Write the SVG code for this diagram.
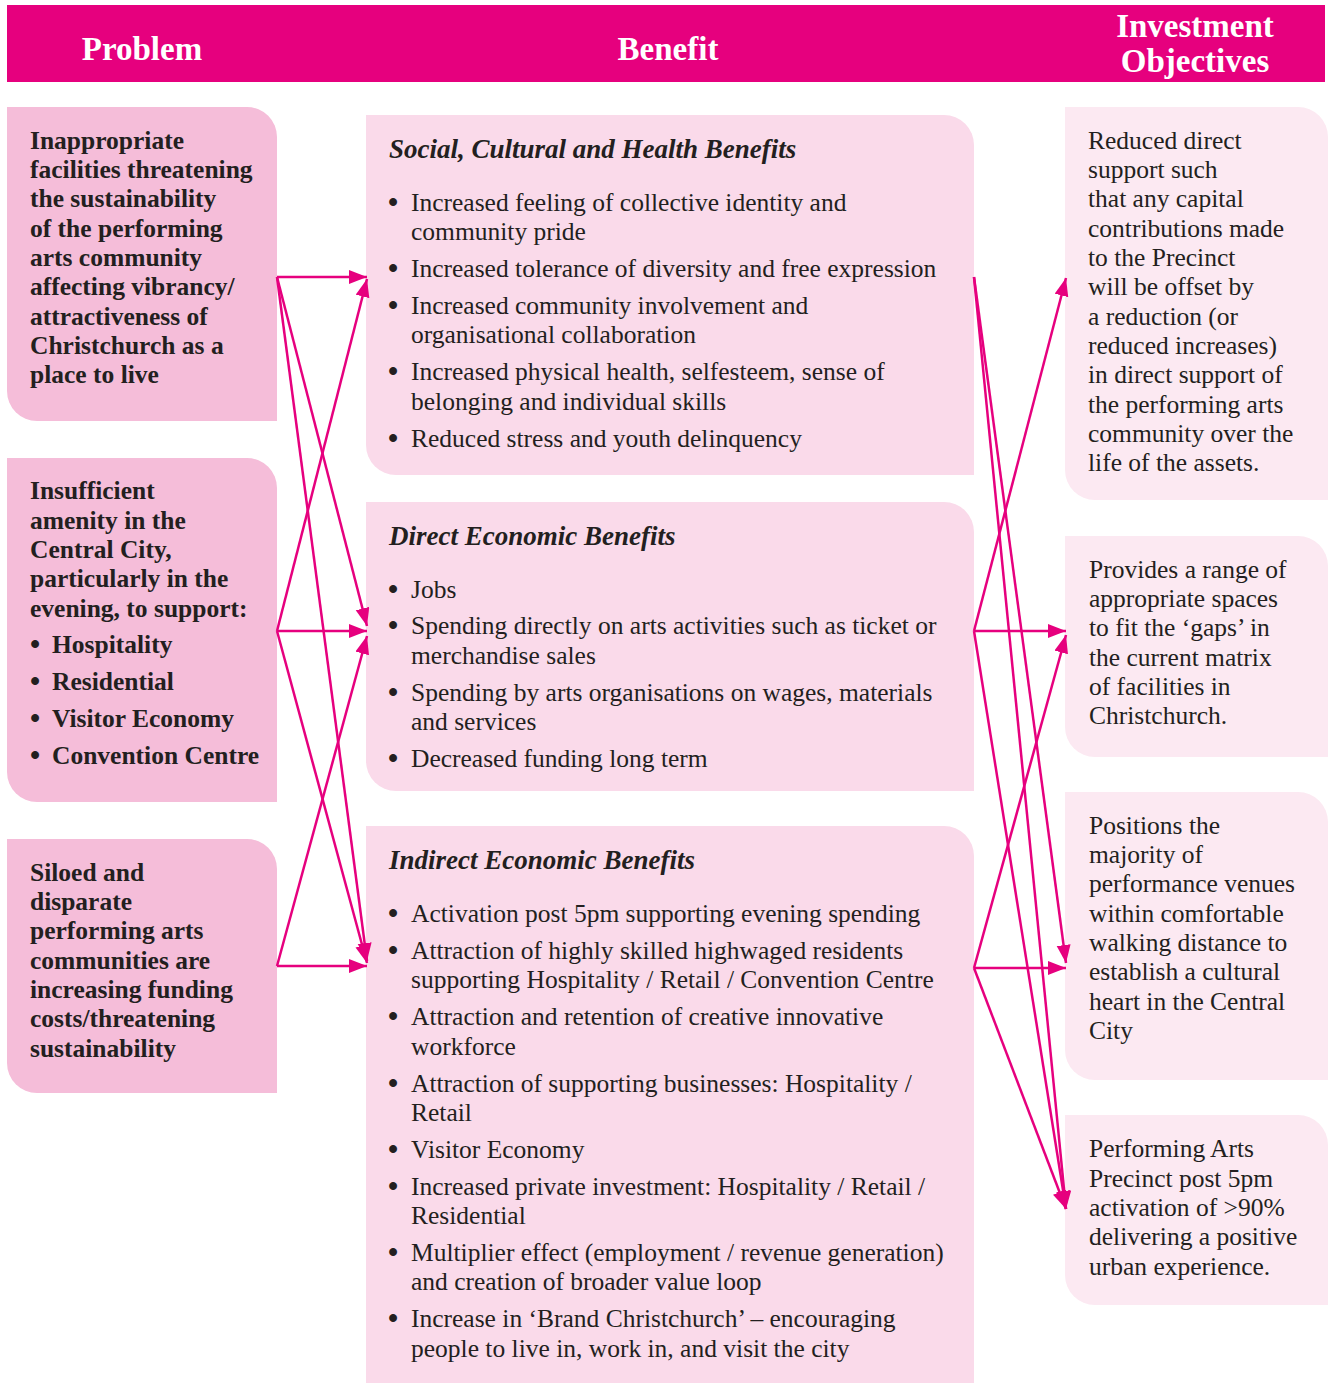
<svg xmlns="http://www.w3.org/2000/svg" width="1330" height="1383" viewBox="0 0 1330 1383">
<style>
.hdr{font-family:"Liberation Serif",serif;font-weight:bold;font-size:33px;fill:#fff;text-anchor:middle}
.t{font-family:"Liberation Serif",serif;font-size:25.5px;fill:#231f20}
.b{font-family:"Liberation Serif",serif;font-size:25.5px;font-weight:bold;fill:#231f20}
.u{font-family:"Liberation Serif",serif;font-size:29px;font-weight:bold;fill:#231f20}
.h{font-family:"Liberation Serif",serif;font-size:27px;font-weight:bold;font-style:italic;fill:#231f20}
.p{fill:#f5bdd9}
.n{fill:#fadaea}
.o{fill:#fce9f2}
.c line{stroke:#e6007e;stroke-width:2.5;marker-end:url(#ah)}
</style>
<defs>
<marker id="ah" markerUnits="userSpaceOnUse" markerWidth="20" markerHeight="16" refX="18" refY="7" orient="auto">
<path d="M0,0 L18,7 L0,14 Z" fill="#e6007e"/>
</marker>
</defs>
<rect x="7" y="5" width="1318" height="77" fill="#e6007e"/>
<g id="headers">
<text class="hdr" x="142" y="60">Problem</text>
<text class="hdr" x="668" y="60">Benefit</text>
<text class="hdr" x="1195" y="37">Investment</text>
<text class="hdr" x="1195" y="72">Objectives</text>
</g>

<g id="problem1">
<path class="p" d="M7,107 H247 A30,30 0 0 1 277,137 V421 H37 A30,30 0 0 1 7,391 Z"/>
<text class="b" x="30" y="149">Inappropriate</text>
<text class="b" x="30" y="178">facilities threatening</text>
<text class="b" x="30" y="207">the sustainability</text>
<text class="b" x="30" y="237">of the performing</text>
<text class="b" x="30" y="266">arts community</text>
<text class="b" x="30" y="295">affecting vibrancy/</text>
<text class="b" x="30" y="325">attractiveness of</text>
<text class="b" x="30" y="354">Christchurch as a</text>
<text class="b" x="30" y="383">place to live</text>
</g>
<g id="problem2">
<path class="p" d="M7,458 H247 A30,30 0 0 1 277,488 V802 H37 A30,30 0 0 1 7,772 Z"/>
<text class="b" x="30" y="499">Insufficient</text>
<text class="b" x="30" y="529">amenity in the</text>
<text class="b" x="30" y="558">Central City,</text>
<text class="b" x="30" y="587">particularly in the</text>
<text class="b" x="30" y="617">evening, to support:</text>
<text class="u" x="30" y="654">•</text><text class="b" x="52" y="653">Hospitality</text>
<text class="u" x="30" y="691">•</text><text class="b" x="52" y="690">Residential</text>
<text class="u" x="30" y="728">•</text><text class="b" x="52" y="727">Visitor Economy</text>
<text class="u" x="30" y="765">•</text><text class="b" x="52" y="764">Convention Centre</text>
</g>
<g id="problem3">
<path class="p" d="M7,839 H247 A30,30 0 0 1 277,869 V1093 H37 A30,30 0 0 1 7,1063 Z"/>
<text class="b" x="30" y="881">Siloed and</text>
<text class="b" x="30" y="910">disparate</text>
<text class="b" x="30" y="939">performing arts</text>
<text class="b" x="30" y="969">communities are</text>
<text class="b" x="30" y="998">increasing funding</text>
<text class="b" x="30" y="1027">costs/threatening</text>
<text class="b" x="30" y="1057">sustainability</text>
</g>

<g id="benefit1">
<path class="n" d="M366,115 H944 A30,30 0 0 1 974,145 V475 H396 A30,30 0 0 1 366,445 Z"/>
<text class="h" x="389" y="158">Social, Cultural and Health Benefits</text>
<text class="u" x="388" y="212">•</text><text class="t" x="411" y="211">Increased feeling of collective identity and</text>
<text class="t" x="411" y="240">community pride</text>
<text class="u" x="388" y="278">•</text><text class="t" x="411" y="277">Increased tolerance of diversity and free expression</text>
<text class="u" x="388" y="315">•</text><text class="t" x="411" y="314">Increased community involvement and</text>
<text class="t" x="411" y="343">organisational collaboration</text>
<text class="u" x="388" y="381">•</text><text class="t" x="411" y="380">Increased physical health, selfesteem, sense of</text>
<text class="t" x="411" y="410">belonging and individual skills</text>
<text class="u" x="388" y="448">•</text><text class="t" x="411" y="447">Reduced stress and youth delinquency</text>
</g>
<g id="benefit2">
<path class="n" d="M366,502 H944 A30,30 0 0 1 974,532 V791 H396 A30,30 0 0 1 366,761 Z"/>
<text class="h" x="389" y="545">Direct Economic Benefits</text>
<text class="u" x="388" y="599">•</text><text class="t" x="411" y="598">Jobs</text>
<text class="u" x="388" y="635">•</text><text class="t" x="411" y="634">Spending directly on arts activities such as ticket or</text>
<text class="t" x="411" y="664">merchandise sales</text>
<text class="u" x="388" y="702">•</text><text class="t" x="411" y="701">Spending by arts organisations on wages, materials</text>
<text class="t" x="411" y="730">and services</text>
<text class="u" x="388" y="768">•</text><text class="t" x="411" y="767">Decreased funding long term</text>
</g>
<g id="benefit3">
<path class="n" d="M366,826 H944 A30,30 0 0 1 974,856 V1420 H366 Z"/>
<text class="h" x="389" y="869">Indirect Economic Benefits</text>
<text class="u" x="388" y="923">•</text><text class="t" x="411" y="922">Activation post 5pm supporting evening spending</text>
<text class="u" x="388" y="960">•</text><text class="t" x="411" y="959">Attraction of highly skilled highwaged residents</text>
<text class="t" x="411" y="988">supporting Hospitality / Retail / Convention Centre</text>
<text class="u" x="388" y="1026">•</text><text class="t" x="411" y="1025">Attraction and retention of creative innovative</text>
<text class="t" x="411" y="1055">workforce</text>
<text class="u" x="388" y="1093">•</text><text class="t" x="411" y="1092">Attraction of supporting businesses: Hospitality /</text>
<text class="t" x="411" y="1121">Retail</text>
<text class="u" x="388" y="1159">•</text><text class="t" x="411" y="1158">Visitor Economy</text>
<text class="u" x="388" y="1196">•</text><text class="t" x="411" y="1195">Increased private investment: Hospitality / Retail /</text>
<text class="t" x="411" y="1224">Residential</text>
<text class="u" x="388" y="1262">•</text><text class="t" x="411" y="1261">Multiplier effect (employment / revenue generation)</text>
<text class="t" x="411" y="1290">and creation of broader value loop</text>
<text class="u" x="388" y="1328">•</text><text class="t" x="411" y="1327">Increase in ‘Brand Christchurch’ – encouraging</text>
<text class="t" x="411" y="1357">people to live in, work in, and visit the city</text>
</g>

<g id="objective1">
<path class="o" d="M1065,107 H1298 A30,30 0 0 1 1328,137 V500 H1095 A30,30 0 0 1 1065,470 Z"/>
<text class="t" x="1088" y="149">Reduced direct</text>
<text class="t" x="1088" y="178">support such</text>
<text class="t" x="1088" y="207">that any capital</text>
<text class="t" x="1088" y="237">contributions made</text>
<text class="t" x="1088" y="266">to the Precinct</text>
<text class="t" x="1088" y="295">will be offset by</text>
<text class="t" x="1088" y="325">a reduction (or</text>
<text class="t" x="1088" y="354">reduced increases)</text>
<text class="t" x="1088" y="383">in direct support of</text>
<text class="t" x="1088" y="413">the performing arts</text>
<text class="t" x="1088" y="442">community over the</text>
<text class="t" x="1088" y="471">life of the assets.</text>
</g>
<g id="objective2">
<path class="o" d="M1065,536 H1298 A30,30 0 0 1 1328,566 V757 H1095 A30,30 0 0 1 1065,727 Z"/>
<text class="t" x="1089" y="578">Provides a range of</text>
<text class="t" x="1089" y="607">appropriate spaces</text>
<text class="t" x="1089" y="636">to fit the ‘gaps’ in</text>
<text class="t" x="1089" y="666">the current matrix</text>
<text class="t" x="1089" y="695">of facilities in</text>
<text class="t" x="1089" y="724">Christchurch.</text>
</g>
<g id="objective3">
<path class="o" d="M1065,792 H1298 A30,30 0 0 1 1328,822 V1080 H1095 A30,30 0 0 1 1065,1050 Z"/>
<text class="t" x="1089" y="834">Positions the</text>
<text class="t" x="1089" y="863">majority of</text>
<text class="t" x="1089" y="892">performance venues</text>
<text class="t" x="1089" y="922">within comfortable</text>
<text class="t" x="1089" y="951">walking distance to</text>
<text class="t" x="1089" y="980">establish a cultural</text>
<text class="t" x="1089" y="1010">heart in the Central</text>
<text class="t" x="1089" y="1039">City</text>
</g>
<g id="objective4">
<path class="o" d="M1065,1115 H1298 A30,30 0 0 1 1328,1145 V1305 H1095 A30,30 0 0 1 1065,1275 Z"/>
<text class="t" x="1089" y="1157">Performing Arts</text>
<text class="t" x="1089" y="1187">Precinct post 5pm</text>
<text class="t" x="1089" y="1216">activation of &gt;90%</text>
<text class="t" x="1089" y="1245">delivering a positive</text>
<text class="t" x="1089" y="1275">urban experience.</text>
</g>

<g id="connectors" class="c">
<line x1="277" y1="277" x2="367" y2="277"/>
<line x1="277" y1="277" x2="367" y2="626"/>
<line x1="277" y1="277" x2="367" y2="961"/>
<line x1="277" y1="631" x2="367" y2="279"/>
<line x1="277" y1="631" x2="367" y2="631"/>
<line x1="277" y1="631" x2="367" y2="963"/>
<line x1="277" y1="966" x2="367" y2="636"/>
<line x1="277" y1="966" x2="367" y2="966"/>
<line x1="974" y1="277" x2="1066" y2="963"/>
<line x1="974" y1="277" x2="1066" y2="1209"/>
<line x1="974" y1="631" x2="1066" y2="278"/>
<line x1="974" y1="631" x2="1066" y2="631"/>
<line x1="974" y1="631" x2="1066" y2="1209"/>
<line x1="974" y1="968" x2="1066" y2="635"/>
<line x1="974" y1="968" x2="1066" y2="968"/>
<line x1="974" y1="968" x2="1066" y2="1209"/>
</g>
</svg>
